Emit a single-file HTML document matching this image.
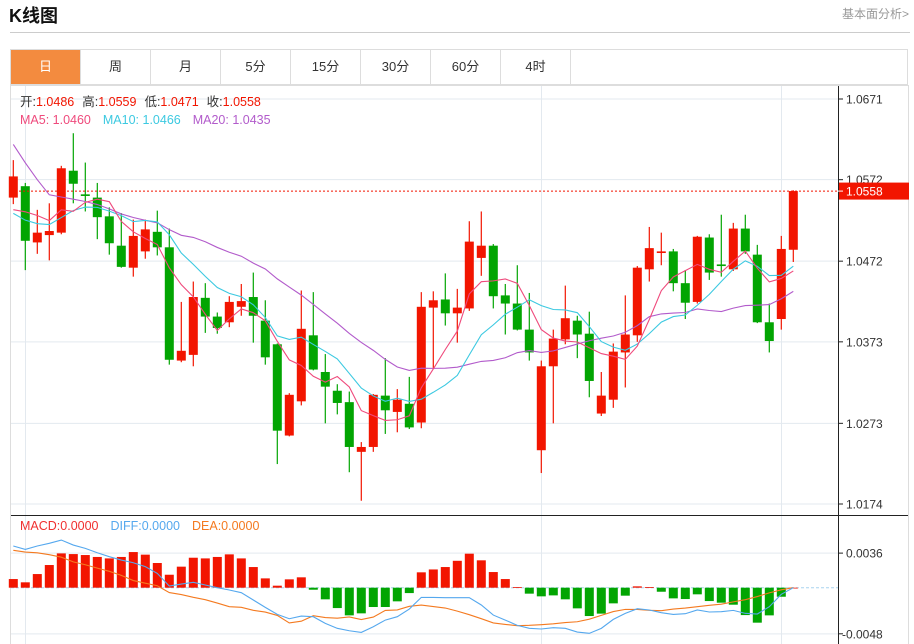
<!DOCTYPE html>
<html><head><meta charset="utf-8"><style>
body{margin:0;width:914px;height:644px;overflow:hidden;background:#fff;font-family:"Liberation Sans","Noto Sans CJK SC",sans-serif;position:relative}
.t{position:absolute}
#title{left:9px;top:2px;font-size:18px;font-weight:bold;color:#111}
#more{right:5px;top:5px;font-size:12px;color:#999}
#hr{left:10px;top:32px;width:900px;height:1px;background:#ccc}
#tabs{left:10px;top:49px;width:898px;height:36px;border:1px solid #ddd;box-sizing:border-box;display:flex}
.tab{width:70px;height:100%;border-right:1px solid #ddd;box-sizing:border-box;text-align:center;line-height:34px;font-size:13px;color:#333}
.tab.on{background:#f38b3f;color:#fff}
</style></head><body>
<div class="t" id="title">K线图</div>
<div class="t" id="more">基本面分析&gt;</div>
<div class="t" id="hr"></div>
<div class="t" id="tabs">
<div class="tab on">日</div>
<div class="tab">周</div>
<div class="tab">月</div>
<div class="tab">5分</div>
<div class="tab">15分</div>
<div class="tab">30分</div>
<div class="tab">60分</div>
<div class="tab">4时</div>
</div>
<svg id="chart" class="t" style="left:0;top:0" width="914" height="644"></svg>
<script>
const opens=[1.0550,1.0564,1.0495,1.0504,1.0507,1.0583,1.0554,1.0550,1.0527,1.0491,1.0464,1.0484,1.0508,1.0489,1.0350,1.0357,1.0427,1.0404,1.0397,1.0416,1.0428,1.0399,1.0370,1.0258,1.0300,1.0381,1.0336,1.0313,1.0299,1.0238,1.0244,1.0307,1.0287,1.0297,1.0274,1.0415,1.0425,1.0408,1.0414,1.0476,1.0491,1.0430,1.0420,1.0388,1.0240,1.0343,1.0376,1.0399,1.0383,1.0285,1.0302,1.0360,1.0381,1.0462,1.0482,1.0484,1.0445,1.0422,1.0501,1.0468,1.0462,1.0512,1.0480,1.0397,1.0401,1.0486];
const closes=[1.0576,1.0497,1.0507,1.0509,1.0586,1.0567,1.0552,1.0526,1.0494,1.0465,1.0503,1.0511,1.0489,1.0351,1.0362,1.0428,1.0404,1.0390,1.0422,1.0423,1.0405,1.0354,1.0264,1.0308,1.0389,1.0339,1.0318,1.0298,1.0244,1.0244,1.0308,1.0289,1.0302,1.0268,1.0416,1.0424,1.0408,1.0415,1.0496,1.0491,1.0429,1.0420,1.0388,1.0360,1.0343,1.0377,1.0402,1.0382,1.0325,1.0307,1.0361,1.0382,1.0464,1.0488,1.0484,1.0445,1.0421,1.0502,1.0458,1.0466,1.0512,1.0484,1.0397,1.0374,1.0487,1.0558];
const highs=[1.0596,1.0568,1.0535,1.0543,1.0589,1.0629,1.0593,1.0568,1.0538,1.0531,1.0523,1.0523,1.0534,1.0512,1.0422,1.0447,1.0445,1.0409,1.0429,1.0444,1.0458,1.0424,1.0371,1.0310,1.0436,1.0434,1.0358,1.0321,1.0312,1.0250,1.0309,1.0353,1.0315,1.0330,1.0434,1.0435,1.0457,1.0438,1.0521,1.0533,1.0493,1.0444,1.0467,1.0433,1.0350,1.0388,1.0442,1.0405,1.0410,1.0336,1.0371,1.0430,1.0466,1.0514,1.0507,1.0487,1.0461,1.0503,1.0505,1.0529,1.0519,1.0529,1.0492,1.0420,1.0503,1.0559];
const lows=[1.0542,1.0461,1.0481,1.0473,1.0505,1.0543,1.0533,1.0499,1.0480,1.0464,1.0453,1.0475,1.0479,1.0345,1.0348,1.0343,1.0384,1.0383,1.0391,1.0405,1.0372,1.0345,1.0223,1.0257,1.0295,1.0338,1.0273,1.0284,1.0213,1.0178,1.0238,1.0260,1.0262,1.0266,1.0267,1.0341,1.0393,1.0372,1.0411,1.0454,1.0414,1.0382,1.0387,1.0350,1.0212,1.0273,1.0370,1.0353,1.0305,1.0282,1.0292,1.0317,1.0373,1.0447,1.0467,1.0435,1.0401,1.0420,1.0449,1.0453,1.0460,1.0481,1.0396,1.0360,1.0388,1.0471];
const priorCloses=[1.095,1.092,1.088,1.064,1.062,1.061,1.060,1.060,1.059,1.059,1.058,1.055,1.052,1.050,1.048,1.051,1.053,1.054,1.052];
const macdHist=[0.0009,0.00056,0.00142,0.00236,0.00357,0.0035,0.0034,0.0032,0.00305,0.0032,0.00371,0.00344,0.00257,0.00135,0.00219,0.00312,0.00305,0.0032,0.00347,0.00305,0.00215,0.00097,0.00021,0.00087,0.00108,-0.00021,-0.00121,-0.00212,-0.00288,-0.00267,-0.00201,-0.00201,-0.00142,-0.00056,0.0016,0.0019,0.00215,0.0028,0.00354,0.00285,0.00163,0.0009,0.00007,-0.00062,-0.0009,-0.0008,-0.00121,-0.00215,-0.00295,-0.0027,-0.00163,-0.00083,0.00014,0.00007,-0.00042,-0.00111,-0.00118,-0.00069,-0.00139,-0.00156,-0.00177,-0.00285,-0.00364,-0.00288,-0.00094,0];
const diffVals=[0.00434,0.00399,0.00434,0.00462,0.00496,0.00444,0.00409,0.00364,0.00323,0.00288,0.0026,0.00219,0.00149,0.00017,0.00038,0.00056,0.00028,0,-0.00024,-0.00052,-0.00128,-0.00205,-0.00278,-0.00323,-0.00295,-0.00302,-0.00371,-0.00423,-0.00448,-0.00465,-0.00406,-0.00337,-0.00302,-0.00222,-0.00101,-0.00101,-0.00104,-0.00104,-0.00104,-0.0018,-0.00285,-0.00337,-0.00392,-0.00423,-0.0043,-0.00416,-0.00423,-0.00462,-0.00475,-0.00423,-0.0033,-0.00267,-0.00219,-0.00232,-0.0026,-0.00278,-0.00271,-0.00232,-0.00253,-0.0025,-0.00236,-0.00267,-0.00274,-0.00198,-0.00069,0];
const priceTicks=[1.0671,1.0572,1.0472,1.0373,1.0273,1.0174];
const macdTicks=[0.0036,-0.0048];

const NS='http://www.w3.org/2000/svg';
const svg=document.getElementById('chart');
function mk(tag,attrs,parent){const e=document.createElementNS(NS,tag);for(const k in attrs)e.setAttribute(k,attrs[k]);(parent||svg).appendChild(e);return e;}
const yP=p=>99+(1.0671-p)*8149;
const yM=v=>587.7-v*9607;
const xI=i=>13.3+12*i;
const RED='#f21500',GRN='#02a502';

// frame
let e;
e=mk('rect',{x:10.5,y:85.5,width:898,height:560,fill:'none',stroke:'#ddd'});


// grid
const gg=mk('g',{stroke:'#e3e9ef','stroke-width':1});


priceTicks.forEach(t=>mk('line',{x1:11,x2:838,y1:yP(t),y2:yP(t)},gg));
macdTicks.forEach(t=>mk('line',{x1:11,x2:838,y1:yM(t),y2:yM(t)},gg));
[25.5,541.5,781.5].forEach(x=>mk('line',{x1:x,x2:x,y1:86,y2:644},gg));
// axes
e=mk('line',{x1:838.5,x2:838.5,y1:86,y2:644,stroke:'#222'});


e=mk('line',{x1:11,x2:908,y1:515.5,y2:515.5,stroke:'#222'});


priceTicks.forEach(t=>{
 mk('line',{x1:838,x2:843,y1:yP(t),y2:yP(t),stroke:'#222'});
 const tx=mk('text',{x:846,y:yP(t)+4.5,'font-size':12,fill:'#333'});
 tx.textContent=t.toFixed(4);
 
 
});
macdTicks.forEach(t=>{
 mk('line',{x1:838,x2:843,y1:yM(t),y2:yM(t),stroke:'#222'});
 const tx=mk('text',{x:t<0?842:846,y:yM(t)+4.5,'font-size':12,fill:'#333'});
 tx.textContent=t.toFixed(4);
 
 
});
// candles
closes.forEach((c,i)=>{
 const o=opens[i],up=c>=o,col=up?RED:GRN,x=xI(i);
 const g=mk('g',{});
 
 
 mk('line',{x1:x,x2:x,y1:yP(highs[i]),y2:yP(lows[i]),stroke:col,'stroke-width':1.2},g);
 const t=yP(Math.max(o,c)),b=yP(Math.min(o,c));
 mk('rect',{x:x-4.5,y:t,width:9,height:Math.max(1.5,b-t),fill:col},g);
});
// MAs
const all=priorCloses.concat(closes);
function ma(n){return closes.map((c,i)=>{const j=i+priorCloses.length;let s=0;for(let k=j-n+1;k<=j;k++)s+=all[k];return s/n;});}
const ma5=ma(5),ma10=ma(10),ma20=ma(20);
[[ma20,'#b25bcb','ma20-line'],[ma10,'#3cc9e1','ma10-line'],[ma5,'#ef4a7c','ma5-line']].forEach(([arr,col,nm])=>{
 const p=mk('polyline',{points:arr.map((v,i)=>xI(i)+','+yP(v)).join(' '),fill:'none',stroke:col,'stroke-width':1.1});
 
 
});
// last price line
const lc=closes[closes.length-1];
e=mk('line',{x1:11,x2:838,y1:yP(lc),y2:yP(lc),stroke:RED,'stroke-dasharray':'2,2'});


e=mk('rect',{x:839,y:yP(lc)-8.5,width:70,height:17,fill:RED});


mk('line',{x1:838,x2:843,y1:yP(lc),y2:yP(lc),stroke:'#fff'});
e=mk('text',{x:846,y:yP(lc)+4.5,'font-size':12,fill:'#fff'});
e.textContent=lc.toFixed(4);


// MACD
e=mk('line',{x1:11,x2:838,y1:yM(0),y2:yM(0),stroke:'#a8d4ef','stroke-dasharray':'3,2'});


macdHist.forEach((v,i)=>{
 const y0=yM(0),y1=yM(v);
 const r=mk('rect',{x:xI(i)-4.5,y:Math.min(y0,y1),width:9,height:Math.max(0.8,Math.abs(y1-y0)),fill:v>=0?RED:GRN});
 
 
});
const deaVals=diffVals.map((d,i)=>d-macdHist[i]/2);
[[deaVals,'#f47a20','dea-line'],[diffVals,'#55a8ee','diff-line']].forEach(([arr,col,nm])=>{
 const p=mk('polyline',{points:arr.map((v,i)=>xI(i)+','+yM(v)).join(' '),fill:'none',stroke:col,'stroke-width':1.1});
 
 
});
// legends
function legend(y,items,nm){
 const t=mk('text',{x:20,y:y,'font-size':12.5});
 
 
 items.forEach(([s,c,dx])=>{const ts=mk('tspan',{fill:c},t);if(dx)ts.setAttribute('dx',dx);ts.textContent=s;});
}
legend(106,[['开:','#333'],['1.0486',RED],['高:','#333',8],['1.0559',RED],['低:','#333',8],['1.0471',RED],['收:','#333',8],['1.0558',RED]],'ohlc-legend');
legend(124,[['MA5: 1.0460','#ef4a7c'],['MA10: 1.0466','#3cc9e1',12],['MA20: 1.0435','#b25bcb',12]],'ma-legend');
legend(530,[['MACD:0.0000','#f03030'],['DIFF:0.0000','#55a8ee',12],['DEA:0.0000','#f47a20',12]],'macd-legend');
</script>
</body></html>
